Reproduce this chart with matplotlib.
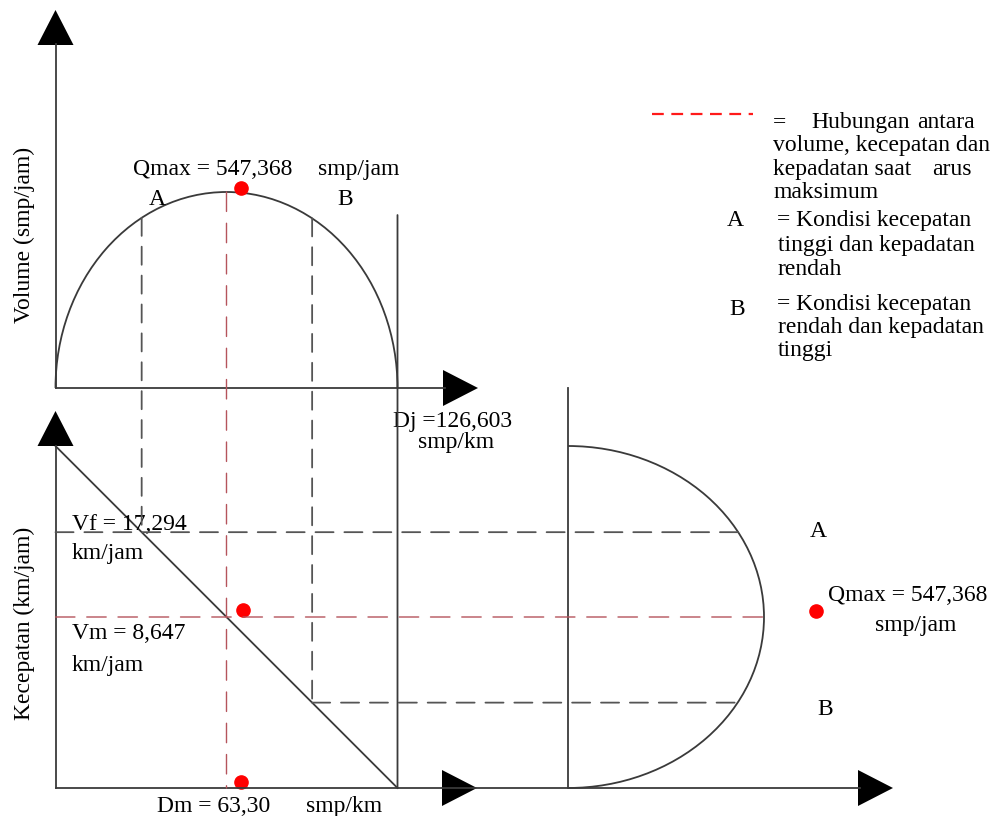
import numpy as np
import matplotlib.pyplot as plt
import matplotlib.transforms as mtransforms
from matplotlib.patches import Arc, ConnectionPatch, Polygon

plt.rcParams['font.family'] = ['Liberation Serif', 'DejaVu Serif']

# parameter model Greenshields
Dj = 126.603     # kepadatan macet (smp/km)
Dm = 63.30       # kepadatan saat arus maksimum (smp/km)
Vf = 17.294      # kecepatan arus bebas (km/jam)
Vm = 8.647       # kecepatan saat arus maksimum (km/jam)
Qmax = 547.368   # arus maksimum (smp/jam)

# kepadatan pada kondisi A dan B
kondisi = ['A', 'B']
D_kondisi = [31.9, 95.0]
Dj_atas = 483    # ujung atas garis Dj (smp/jam)

W, H = 995, 816
GARIS = '#3a3a3a'
PUTUS = '#555555'
MERAH = '#b5545c'
dash = (0, (10, 6))
dash_merah = (0, (14, 8.5))
FS = 17
VA = 'center_baseline'

fig = plt.figure(figsize=(W / 100, H / 100), dpi=100)


def panel(px0, px1, x0, x1, py0, py1, y0, y1):
    # sumbu transparan selebar gambar, skala linear ke posisi piksel
    a = fig.add_axes([0, 0, 1, 1])
    sx = (x1 - x0) / (px1 - px0)
    sy = (y1 - y0) / (py0 - py1)
    a.set_xlim(x0 - px0 * sx, x0 + (W - px0) * sx)
    a.set_ylim(y0 - (H - py0) * sy, y0 + py0 * sy)
    a.axis('off')
    return a


ax_q = panel(55.5, 397.5, 0, Dj, 388, 192, 0, Qmax)   # volume - kepadatan
ax_v = panel(55.5, 397.5, 0, Dj, 788, 446, 0, Vf)     # kecepatan - kepadatan
ax_r = panel(568, 764, 0, Qmax, 788, 446, 0, Vf)      # volume - kecepatan

ax = fig.add_axes([0, 0, 1, 1])
ax.set_xlim(0, W)
ax.set_ylim(H, 0)
ax.axis('off')


def q_busur(D):
    return Qmax * np.sqrt(1 - ((D - Dj / 2) / (Dj / 2)) ** 2)


def v_garis(D):
    return Vf * (1 - D / Dj)


def q_kanan(V):
    return Qmax * np.sqrt(1 - ((V - Vf / 2) / (Vf / 2)) ** 2)


def sambung(a, pa, b, pb, **kw):
    fig.add_artist(ConnectionPatch(pa, pb, coordsA=a.transData, coordsB=b.transData, **kw))


def titik(a, x, y, dx, dy):
    off = mtransforms.ScaledTranslation(dx / 100, dy / 100, fig.dpi_scale_trans)
    a.plot(x, y, 'o', color='red', ms=9.5, transform=a.transData + off, clip_on=False, zorder=5)


def panah(x, y, arah):
    # segitiga hitam di ujung sumbu
    p, l = 35, 18
    if arah == 'atas':
        pts = [(x, y), (x - l, y + p), (x + l, y + p)]
    else:
        pts = [(x, y), (x - p, y - l), (x - p, y + l)]
    ax.add_patch(Polygon(pts, closed=True, color='black', lw=0))


# kurva hubungan
ax_q.add_patch(Arc((Dj / 2, 0), Dj, 2 * Qmax, theta1=0, theta2=180, color=GARIS, lw=1.3))
ax_r.add_patch(Arc((0, Vf / 2), 2 * Qmax, Vf, theta1=-90, theta2=90, color=GARIS, lw=1.3))
ax_v.plot([0, Dj], [Vf, 0], color=GARIS, lw=1.3)
sambung(ax_q, (Dj, Dj_atas), ax_v, (Dj, 0), color=GARIS, lw=1.3)

# garis bantu kondisi A dan B
for lab, D in zip(kondisi, D_kondisi):
    V = v_garis(D)
    sambung(ax_q, (D, q_busur(D)), ax_v, (D, V), color=PUTUS, lw=1.3, ls=dash)
    x0 = 0 if lab == 'A' else D
    sambung(ax_v, (x0, V), ax_r, (q_kanan(V), V), color=PUTUS, lw=1.3, ls=dash)

# kondisi arus maksimum
sambung(ax_q, (Dm, Qmax), ax_v, (Dm, 0), color=MERAH, lw=1.0, ls=dash_merah)
sambung(ax_v, (0, Vm), ax_r, (Qmax, Vm), color=MERAH, lw=1.0, ls=dash_merah)
titik(ax_q, Dm, Qmax, 14.7, 4.3)
titik(ax_v, Dm, Vm, 17, 7)
titik(ax_v, Dm, 0, 14.7, 6.3)
titik(ax_r, Qmax, Vm, 52, 6)

# sumbu
for xs, ys in [([55.5, 55.5], [44, 388]), ([55.5, 445], [388, 388]),
               ([55.5, 55.5], [446, 788]), ([55.5, 860], [788, 788]),
               ([568, 568], [388, 788])]:
    ax.plot(xs, ys, color=GARIS, lw=1.3)
panah(55.5, 10, 'atas')
panah(478, 388, 'kanan')
panah(55.5, 411, 'atas')
panah(477, 788, 'kanan')
panah(893, 788, 'kanan')

# label sumbu dan nilai
ax.text(24, 235, 'Volume (smp/jam)', rotation=90, fontsize=FS, ha='center', va='center')
ax.text(24, 623, 'Kecepatan (km/jam)', rotation=90, fontsize=FS, ha='center', va='center')

teks = [
    (133, 167, 'Qmax = 547,368'), (318, 167, 'smp/jam'),
    (393, 419, 'Dj =126,603'), (418, 440, 'smp/km'),
    (72, 522, 'Vf = 17,294'), (72, 551, 'km/jam'),
    (72, 631, 'Vm = 8,647'), (72, 663, 'km/jam'),
    (157, 804, 'Dm = 63,30'), (306, 804, 'smp/km'),
    (828, 593, 'Qmax = 547,368'),
]
for x, y, s in teks:
    ax.text(x, y, s, fontsize=FS, ha='left', va=VA)
ax.text(916, 623, 'smp/jam', fontsize=FS, ha='center', va=VA)

for x, y, s in [(157, 197, 'A'), (345, 197, 'B'), (818, 529, 'A'), (825, 707, 'B')]:
    ax.text(x, y, s, fontsize=FS, ha='center', va=VA)

# keterangan
ax.plot([652, 753], [114, 114], color='#ff1a1a', lw=1.6, ls=(0, (5.3, 3.4)))
ket = [
    (773, 120, '=', 'left'), (811, 120, 'Hubungan', 'left'), (975, 120, 'antara', 'right'),
    (773, 143, 'volume, kecepatan dan', 'left'),
    (773, 167, 'kepadatan saat', 'left'), (972, 167, 'arus', 'right'),
    (773, 190, 'maksimum', 'left'),
    (777, 218, '= Kondisi kecepatan', 'left'),
    (778, 243, 'tinggi dan kepadatan', 'left'),
    (778, 267, 'rendah', 'left'),
    (777, 302, '= Kondisi kecepatan', 'left'),
    (778, 325, 'rendah dan kepadatan', 'left'),
    (778, 348, 'tinggi', 'left'),
]
for x, y, s, ha in ket:
    ax.text(x, y, s, fontsize=FS, ha=ha, va=VA)
ax.text(735, 218, 'A', fontsize=FS, ha='center', va=VA)
ax.text(737, 307, 'B', fontsize=FS, ha='center', va=VA)

fig.savefig('out.png', dpi=100)
